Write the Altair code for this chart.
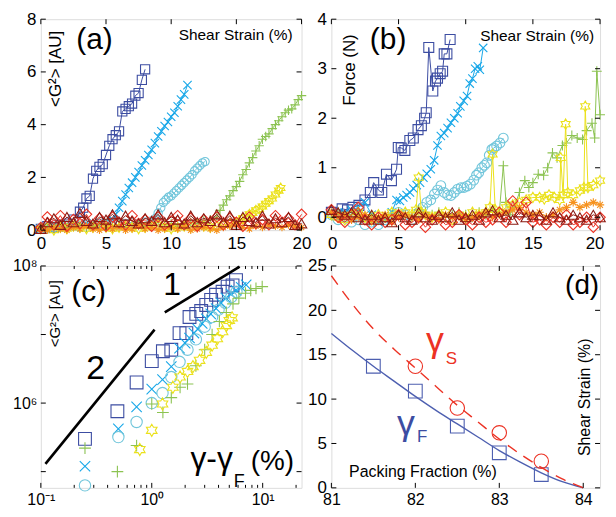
import altair as alt
import pandas as pd

FONT = "Liberation Sans"

# ---------------- colours and marker outlines ----------------
BLUE = "#3c4da2"
SKY = "#17a7e8"
CYAN = "#72c6db"
GREEN = "#8cc352"
YELLOW = "#ebe11b"
ORANGE = "#f6921e"
RED = "#ec3224"
DARKRED = "#8b1b13"

PLUS = "M-1,0L1,0M0,-1L0,1"
CROSS = "M-0.8,-0.8L0.8,0.8M-0.8,0.8L0.8,-0.8"
ASTER = "M-1,0L1,0M0,-1L0,1M-0.7,-0.7L0.7,0.7M-0.7,0.7L0.7,-0.7"
HEXA = ("M0,-1L0.289,-0.5L0.866,-0.5L0.577,0L0.866,0.5L0.289,0.5L0,1L-0.289,0.5"
        "L-0.866,0.5L-0.577,0L-0.866,-0.5L-0.289,-0.5Z")

# ---------------- panel (a): <G^2> vs shear strain ----------------
X_FULL = [0.0, 0.5, 1.0, 1.5, 2.0, 2.5, 3.0, 3.5, 4.0, 4.5, 5.0, 5.5, 6.0, 6.5, 7.0, 7.5, 8.0, 8.5,
          9.0, 9.5, 10.0, 10.5, 11.0, 11.5, 12.0, 12.5, 13.0, 13.5, 14.0, 14.5, 15.0, 15.5, 16.0,
          16.5, 17.0, 17.5, 18.0, 18.5, 19.0, 19.5, 20.0]

A_SQ_X = [0.0, 0.5, 1.0, 1.5, 2.0, 2.5, 3.0, 3.25, 3.5, 3.75, 4.0, 4.25, 4.5, 4.75, 5.0, 5.25, 5.5,
          5.75, 6.0, 6.25, 6.5, 6.75, 7.0, 7.25, 7.5, 7.75, 8.0]
A_SQ_Y = [0.05, 0.15, 0.1, 0.2, 0.25, 0.4, 0.7, 0.85, 1.2, 1.3, 1.95, 2.25, 2.4, 2.5, 2.85, 3.2, 3.45,
          3.6, 3.75, 4.5, 4.6, 4.7, 4.8, 5.1, 5.2, 5.7, 6.1]

A_X_X = [0.0, 0.5, 1.0, 1.5, 2.0, 2.5, 3.0, 3.5, 4.0, 4.5, 5.0, 5.5, 5.75, 6.0, 6.25, 6.5, 6.75, 7.0,
         7.25, 7.5, 7.75, 8.0, 8.25, 8.5, 8.75, 9.0, 9.25, 9.5, 9.75, 10.0, 10.25, 10.5, 10.75, 11.0,
         11.25]
A_X_Y = [0.05, 0.1, 0.15, 0.1, 0.2, 0.15, 0.2, 0.25, 0.2, 0.3, 0.35, 0.4, 0.6, 0.85, 1.1, 1.35, 1.6,
         1.8, 2.0, 2.2, 2.45, 2.65, 2.85, 3.05, 3.3, 3.55, 3.75, 3.95, 4.1, 4.3, 4.45, 4.7, 4.95, 5.15,
         5.5]

A_O_X = [0.0, 0.5, 1.0, 1.5, 2.0, 2.5, 3.0, 3.5, 4.0, 4.5, 5.0, 5.5, 6.0, 6.5, 7.0, 7.5, 8.0, 8.5,
         8.8, 9.0, 9.2, 9.4, 9.6, 9.8, 10.0, 10.2, 10.4, 10.6, 10.8, 11.0, 11.2, 11.4, 11.6, 11.8,
         12.0, 12.2, 12.4, 12.6]
A_O_Y = [0.1, 0.05, 0.15, 0.1, 0.2, 0.15, 0.1, 0.2, 0.15, 0.25, 0.2, 0.15, 0.2, 0.25, 0.3, 0.25, 0.3,
         0.35, 0.45, 0.65, 0.85, 1.05, 1.15, 1.25, 1.3, 1.4, 1.5, 1.6, 1.7, 1.8, 1.9, 2.0, 2.1, 2.25,
         2.35, 2.45, 2.55, 2.6]

A_P_X = [0.0, 0.5, 1.0, 1.5, 2.0, 2.5, 3.0, 3.5, 4.0, 4.5, 5.0, 5.5, 6.0, 6.5, 7.0, 7.5, 8.0, 8.5,
         9.0, 9.5, 10.0, 10.5, 11.0, 11.5, 12.0, 12.5, 13.0, 13.5, 13.75, 14.0, 14.25, 14.5, 14.75,
         15.0, 15.25, 15.5, 15.75, 16.0, 16.25, 16.5, 16.75, 17.0, 17.25, 17.5, 17.75, 18.0, 18.25,
         18.5, 18.75, 19.0, 19.25, 19.5, 19.75, 20.0]
A_P_Y = [0.1, 0.15, 0.05, 0.2, 0.1, 0.15, 0.2, 0.1, 0.15, 0.2, 0.25, 0.15, 0.2, 0.1, 0.2, 0.25, 0.15,
         0.2, 0.3, 0.2, 0.25, 0.15, 0.2, 0.3, 0.25, 0.35, 0.4, 0.5, 0.75, 0.95, 1.15, 1.3, 1.5, 1.65,
         1.85, 2.1, 2.3, 2.55, 2.75, 3.0, 3.2, 3.45, 3.55, 3.65, 3.85, 4.0, 4.15, 4.3, 4.45, 4.55,
         4.6, 4.75, 4.95, 5.1]

A_H_X = [0.0, 0.5, 1.0, 1.5, 2.0, 2.5, 3.0, 3.5, 4.0, 4.5, 5.0, 5.5, 6.0, 6.5, 7.0, 7.5, 8.0, 8.5,
         9.0, 9.5, 10.0, 10.5, 11.0, 11.5, 12.0, 12.5, 13.0, 13.5, 14.0, 14.5, 15.0, 15.25, 15.5,
         15.75, 16.0, 16.25, 16.5, 16.75, 17.0, 17.25, 17.5, 17.75, 18.0, 18.25, 18.4]
A_H_Y = [0.05, 0.1, 0.0, 0.1, 0.05, 0.15, 0.1, 0.05, 0.1, 0.15, 0.1, 0.05, 0.1, 0.15, 0.1, 0.05, 0.1,
         0.15, 0.2, 0.1, 0.05, 0.1, 0.15, 0.1, 0.2, 0.15, 0.1, 0.15, 0.2, 0.25, 0.3, 0.35, 0.45, 0.5,
         0.6, 0.65, 0.75, 0.8, 0.9, 1.0, 1.1, 1.2, 1.35, 1.5, 1.6]

A_AST_Y = [0.05, 0.0, 0.1, 0.05, 0.0, 0.1, 0.05, 0.15, 0.05, 0.0, 0.1, 0.05, 0.1, 0.0, 0.05, 0.15,
           0.05, 0.1, 0.0, 0.05, 0.1, 0.05, 0.15, 0.0, 0.05, 0.1, 0.05, 0.0, 0.1, 0.15, 0.2, 0.1,
           0.05, 0.15, 0.1, 0.2, 0.15, 0.1, 0.2, 0.15, 0.1]
A_DIA_Y = [0.1, 0.5, 0.2, 0.55, 0.15, 0.4, 0.25, 0.6, 0.2, 0.45, 0.15, 0.5, 0.3, 0.2, 0.55, 0.25,
           0.4, 0.15, 0.5, 0.2, 0.35, 0.55, 0.2, 0.45, 0.15, 0.4, 0.25, 0.5, 0.2, 0.45, 0.3, 0.15,
           0.5, 0.25, 0.4, 0.2, 0.55, 0.3, 0.45, 0.2, 0.6]
A_TRI_Y = [0.05, 0.3, 0.45, 0.2, 0.5, 0.3, 0.65, 0.35, 0.25, 0.5, 0.4, 0.6, 0.3, 0.55, 0.35, 0.25,
           0.45, 0.35, 0.6, 0.3, 0.5, 0.4, 0.25, 0.55, 0.3, 0.45, 0.35, 0.6, 0.3, 0.55, 0.2, 0.5,
           0.35, 0.3, 0.55, 0.25, 0.45, 0.3, 0.5, 0.2, 0.25]

# ---------------- panel (b): force vs shear strain ----------------
B_SQ_X = [0.0, 0.4, 0.8, 1.2, 1.6, 2.05, 2.5, 2.9, 3.15, 3.5, 3.75, 4.1, 4.47, 4.85, 4.98, 5.2, 5.47,
          5.84, 6.1, 6.45, 6.7, 6.94, 7.06, 7.25, 7.55, 7.75, 7.9, 8.1, 8.28, 8.4, 8.6, 8.84]
B_SQ_Y = [0.1, 0.05, 0.17, 0.15, 0.2, 0.24, 0.35, 0.5, 0.7, 0.55, 0.5, 0.87, 0.74, 0.97, 1.41, 1.4,
          1.35, 1.55, 1.6, 1.77, 1.85, 2.0, 2.11, 3.43, 2.55, 2.75, 2.81, 2.9, 2.95, 3.3, 3.3, 3.59]

B_X_X = [0.0, 0.5, 1.0, 1.5, 2.0, 2.5, 3.0, 3.5, 4.0, 4.5, 4.85, 5.1, 5.35, 5.6, 5.85, 6.1, 6.35,
         6.6, 6.85, 7.1, 7.4, 7.65, 7.9, 8.15, 8.4, 8.65, 8.9, 9.15, 9.4, 9.6, 9.85, 10.1, 10.3, 10.5,
         10.7, 10.9, 11.05, 11.3]
B_X_Y = [0.1, 0.05, 0.1, 0.15, 0.2, 0.3, 0.05, -0.1, -0.05, 0.1, 0.35, 0.33, 0.4, 0.45, 0.5, 0.58,
         0.65, 0.7, 0.8, 0.88, 0.97, 1.15, 1.45, 1.64, 1.7, 1.8, 1.91, 2.0, 2.1, 2.24, 2.35, 2.45,
         2.7, 2.8, 3.0, 3.05, 2.98, 3.42]

B_O_X = [0.0, 0.5, 1.0, 1.5, 2.0, 2.5, 3.0, 3.5, 4.0, 4.5, 5.0, 5.5, 6.0, 6.5, 6.8, 7.1, 7.4, 7.67,
         7.9, 8.15, 8.4, 8.65, 8.9, 9.15, 9.4, 9.65, 9.87, 10.1, 10.35, 10.6, 10.8, 10.97, 11.2,
         11.4, 11.57, 11.75, 11.94, 12.1, 12.3, 12.55, 12.8]
B_O_Y = [0.05, -0.05, 0.0, -0.1, -0.05, -0.15, -0.1, -0.15, -0.05, 0.0, 0.1, 0.05, -0.05, 0.1, 0.2,
         0.3, 0.35, 0.47, 0.55, 0.64, 0.5, 0.45, 0.44, 0.5, 0.57, 0.6, 0.6, 0.63, 0.67, 0.75, 0.85,
         0.9, 1.0, 1.05, 1.1, 1.25, 1.37, 1.4, 1.44, 1.5, 1.6]

B_P_X = [0.0, 0.5, 1.0, 1.5, 2.0, 2.5, 3.0, 3.5, 4.0, 4.5, 5.0, 5.5, 6.0, 6.5, 7.0, 7.5, 8.0, 8.5,
         9.0, 9.5, 10.0, 10.5, 11.0, 11.5, 12.0, 12.5, 12.8, 13.0, 13.3, 13.6, 14.0, 14.4, 14.7,
         15.0, 15.4, 15.8, 16.1, 16.46, 16.8, 17.2, 17.5, 17.9, 18.3, 18.7, 19.0, 19.4, 19.6, 19.76,
         20.0]
B_P_Y = [0.05, 0.1, 0.0, 0.05, 0.1, 0.0, 0.05, -0.05, 0.0, 0.05, 0.1, 0.05, 0.0, 0.15, 0.1, 0.05,
         0.1, 0.0, 0.05, 0.1, 0.05, 0.0, 0.1, 0.05, 0.15, 0.1, 1.04, 0.3, 0.05, 0.2, 0.5, 0.74, 0.6,
         0.7, 0.87, 0.85, 1.0, 1.3, 1.2, 1.45, 1.5, 1.65, 1.6, 1.57, 1.75, 1.9, 1.6, 2.95, 2.07]

B_H_X = [0.0, 0.5, 1.0, 1.5, 2.0, 2.5, 3.0, 3.5, 4.0, 4.5, 5.0, 5.5, 6.0, 6.3, 6.5, 6.7, 7.0, 7.5,
         8.0, 8.5, 9.0, 9.5, 10.0, 10.5, 11.0, 11.5, 11.8, 12.0, 12.2, 12.5, 13.0, 13.5, 14.0, 14.5,
         15.0, 15.5, 15.85, 16.2, 16.6, 17.0, 17.07, 17.25, 17.44, 17.6, 18.0, 18.5, 18.8, 18.9,
         19.1, 19.5, 20.0]
B_H_Y = [0.05, 0.0, -0.05, 0.05, 0.1, 0.0, -0.05, 0.05, 0.0, 0.1, 0.05, 0.1, 0.05, 0.15, 0.8, 0.1,
         0.05, 0.0, 0.05, 0.1, -0.05, 0.05, 0.0, 0.1, 0.05, 0.1, 0.2, 1.27, 0.15, 0.1, 0.2, 0.25,
         0.3, 0.35, 0.4, 0.4, 0.37, 0.45, 0.4, 0.35, 1.2, 0.45, 1.88, 0.5, 0.45, 0.54, 0.6, 2.24,
         0.6, 0.65, 0.74]

B_AST_Y = [0.1, 0.0, 0.05, -0.05, 0.0, 0.05, -0.05, 0.0, 0.05, -0.1, 0.0, 0.05, 0.0, -0.05, 0.05,
           0.0, -0.05, 0.05, 0.0, 0.05, -0.05, 0.0, 0.05, 0.1, 0.0, 0.05, 0.1, 0.15, 0.2, 0.1, 0.05,
           0.1, 0.0, 0.05, 0.15, 0.2, 0.3, 0.2, 0.25, 0.3, 0.25]
B_DIA_Y = [0.15, 0.0, -0.1, 0.05, 0.2, -0.05, -0.15, 0.0, -0.1, -0.05, 0.05, -0.15, -0.1, 0.0,
           -0.2, -0.05, 0.0, -0.15, -0.1, 0.05, -0.05, -0.15, 0.0, -0.1, -0.05, 0.1, -0.1, 0.33,
           0.05, 0.3, -0.1, -0.05, -0.15, 0.0, -0.1, 0.05, -0.15, -0.1, 0.0, -0.2, 0.0]
B_TRI_Y = [0.15, 0.1, 0.05, 0.1, 0.0, -0.05, 0.05, -0.05, 0.0, -0.1, 0.05, 0.0, -0.05, 0.1, 0.0,
           -0.05, 0.05, 0.0, 0.1, -0.05, 0.0, 0.05, -0.05, 0.1, 0.14, 0.0, 0.05, -0.05, 0.1, 0.0,
           0.05, 0.04, -0.05, 0.1, 0.0, -0.05, 0.05, 0.0, -0.05, 0.05, 0.0]

# ---------------- panel (c): <G^2> vs gamma - gamma_F (log-log) ----------------
C_SQ_X = [0.25, 0.49, 0.73, 1.0, 1.26, 1.5, 1.78, 2.05, 2.19, 2.52, 2.79, 3.1, 3.43, 3.8, 4.35,
          4.83, 5.35, 5.75]
C_SQ_Y = [3.0e5, 7.6e5, 2.0e6, 4.1e6, 5.7e6, 6.0e6, 1.05e7, 1.05e7, 1.8e7, 2.0e7, 2.2e7, 2.7e7,
          3.2e7, 3.8e7, 4.2e7, 5.0e7, 5.2e7, 6.2e7]
C_X_X = [0.25, 0.5, 0.73, 1.0, 1.25, 1.5, 1.78, 2.0, 2.19, 2.4, 2.6, 2.85, 3.1, 3.4, 3.8, 4.2, 4.67,
         5.2, 5.75, 6.4, 7.1]
C_X_Y = [1.2e5, 4.2e5, 8.8e5, 1.6e6, 2.2e6, 3.4e6, 6.3e6, 7.5e6, 8.9e6, 1.05e7, 1.2e7, 1.45e7,
         1.7e7, 2.0e7, 2.4e7, 2.9e7, 3.4e7, 3.9e7, 4.4e7, 4.9e7, 5.3e7]
C_O_X = [0.25, 0.5, 0.73, 1.0, 1.25, 1.5, 1.78, 2.1, 2.5, 3.0, 3.5, 4.0, 4.6, 5.2, 5.8]
C_O_Y = [6.3e4, 3.2e5, 5.3e5, 1.0e6, 1.4e6, 2.4e6, 4.0e6, 6.0e6, 8.5e6, 1.3e7, 1.8e7, 2.3e7, 2.9e7,
         3.5e7, 4.2e7]
C_P_X = [0.25, 0.49, 0.73, 1.0, 1.26, 1.5, 1.8, 2.1, 2.5, 3.0, 3.5, 4.07, 4.7, 5.4, 6.1, 7.0, 7.8,
         8.7, 9.9]
C_P_Y = [2.2e5, 1.0e5, 2.4e5, 9.7e5, 7.3e5, 1.2e6, 1.7e6, 1.9e6, 3.5e6, 6.0e6, 1.0e7, 1.55e7,
         2.1e7, 2.8e7, 3.4e7, 4.0e7, 4.4e7, 4.7e7, 5.0e7]
C_H_X = [0.78, 1.0, 1.25, 1.55, 1.8, 2.1, 2.35, 2.7, 3.1, 3.5, 3.9, 4.35, 4.7, 5.0, 5.3]
C_H_Y = [2.1e5, 4.0e5, 9.7e5, 1.7e6, 2.4e6, 2.9e6, 3.4e6, 4.2e6, 5.5e6, 7.0e6, 8.7e6, 1.1e7,
         1.35e7, 1.6e7, 1.75e7]
SLOPE2_X = [0.11, 1.06]
SLOPE2_Y = [1.3e5, 1.18e7]
SLOPE1_X = [1.31, 6.2]
SLOPE1_Y = [2.1e7, 9.8e7]

# ---------------- panel (d): shear strain vs packing fraction ----------------
PF_F = [81.5, 82.0, 82.5, 83.0, 83.5]
GAMMA_F = [13.7, 10.9, 6.95, 3.95, 1.5]
PF_S = [82.0, 82.5, 83.0, 83.5]
GAMMA_S = [13.7, 9.0, 6.2, 3.0]
FIT_PF = [81.0, 81.25, 81.5, 81.75, 82.0, 82.25, 82.5, 82.75, 83.0, 83.25, 83.5, 83.75, 84.0]
FIT_F = [17.4, 15.5, 13.7, 12.0, 10.3, 8.7, 7.2, 5.7, 4.2, 2.9, 1.7, 0.7, 0.0]
FIT_S = [23.9, 20.7, 17.9, 15.6, 13.5, 11.4, 9.3, 7.4, 5.5, 3.8, 2.3, 1.0, 0.0]

# ---------------- axis ticks / labels ----------------
A_XTICKS = [0, 5, 10, 15, 20]
A_YTICKS = [0, 2, 4, 6, 8]
B_YTICKS = [0, 1, 2, 3, 4]
C_XTICKS = [0.1, 1, 10]
C_XMINOR = [0.2, 0.3, 0.4, 0.5, 0.6, 0.7, 0.8, 0.9, 2, 3, 4, 5, 6, 7, 8, 9, 20]
C_YTICKS = [1e5, 1e6, 1e7, 1e8]
C_YLABELS = [1e6, 1e8]
D_XTICKS = [81, 82, 83, 84]
D_YTICKS = [0, 5, 10, 15, 20, 25]

LBL = 17


def axis(values, size=LBL, expr=None, pad=5, flush=False):
    kw = dict(values=values, title=None, grid=False, ticks=False, domain=False,
              labelFontSize=size, labelPadding=pad, labelColor="black", labelFlush=flush,
              labelFont=FONT)
    if flush:
        kw["labelFlushOffset"] = 4
    if expr:
        kw["labelExpr"] = expr
    return alt.Axis(**kw)


def panel(W, H, xscale, yscale, xaxis, yaxis, series, xticks, yticks, texts,
          xminor=(), yminor=(), lines=True, extra=()):
    def X():
        return alt.X("x:Q", scale=xscale, axis=xaxis)

    def Y():
        return alt.Y("y:Q", scale=yscale, axis=yaxis)

    layers = []
    for xs, ys, color, shape, size in series:
        df = pd.DataFrame({"x": xs, "y": ys})
        if lines:
            layers.append(alt.Chart(df).mark_line(color=color, strokeWidth=1)
                          .encode(x=X(), y=Y()))
        layers.append(alt.Chart(df).mark_point(shape=shape, size=size, color=color, filled=False,
                                               strokeWidth=1.1, opacity=1)
                      .encode(x=X(), y=Y()))
    for e in extra:
        layers.append(e(X, Y))
    # inward tick marks on all four sides
    for vals, ln in ((xticks, 5), (list(xminor), 3)):
        if vals:
            dfx = pd.DataFrame({"x": vals})
            layers.append(alt.Chart(dfx).mark_rule(color="black", strokeWidth=1)
                          .encode(x=X(), y=alt.value(H - ln), y2=alt.value(H)))
            layers.append(alt.Chart(dfx).mark_rule(color="black", strokeWidth=1)
                          .encode(x=X(), y=alt.value(0), y2=alt.value(ln)))
    for vals, ln in ((yticks, 5), (list(yminor), 3)):
        if vals:
            dfy = pd.DataFrame({"y": vals})
            layers.append(alt.Chart(dfy).mark_rule(color="black", strokeWidth=1)
                          .encode(y=Y(), x=alt.value(0), x2=alt.value(ln)))
            layers.append(alt.Chart(dfy).mark_rule(color="black", strokeWidth=1)
                          .encode(y=Y(), x=alt.value(W - ln), x2=alt.value(W)))
    for t, px, py, fs, color, angle, align, base in texts:
        layers.append(alt.Chart(pd.DataFrame({"t": [t]}))
                      .mark_text(text=t, fontSize=fs, color=color, angle=angle, align=align,
                                 baseline=base, font=FONT)
                      .encode(x=alt.value(px), y=alt.value(py)))
    return alt.layer(*layers).properties(width=W, height=H)


WA, HA = 262, 212
WB, HC = 270, 223

strain_scale = alt.Scale(domain=[0, 20], nice=False, zero=False)

# (a)
chart_a = panel(
    WA, HA, strain_scale, alt.Scale(domain=[0, 8], nice=False),
    axis(A_XTICKS), axis(A_YTICKS),
    [
        (A_SQ_X, A_SQ_Y, BLUE, "square", 85),
        (A_X_X, A_X_Y, SKY, CROSS, 110),
        (A_O_X, A_O_Y, CYAN, "circle", 70),
        (A_P_X, A_P_Y, GREEN, PLUS, 90),
        (A_H_X, A_H_Y, YELLOW, HEXA, 100),
        (X_FULL, A_AST_Y, ORANGE, ASTER, 60),
        (X_FULL, A_DIA_Y, RED, "diamond", 110),
        (X_FULL, A_TRI_Y, DARKRED, "triangle-up", 110),
    ],
    A_XTICKS, A_YTICKS,
    [
        ("(a)", 54, 21, 30, "black", 0, "center", "middle"),
        ("<G²> [AU]", 15, 50, 17, "black", 270, "center", "middle"),
        ("Shear Strain (%)", 253, 16, 15.5, "black", 0, "right", "middle"),
    ],
)

# (b)
chart_b = panel(
    WB, HA, strain_scale, alt.Scale(domain=[-0.26, 4], nice=False, zero=False),
    axis(A_XTICKS, flush=True), axis(B_YTICKS),
    [
        (B_SQ_X, B_SQ_Y, BLUE, "square", 100),
        (B_X_X, B_X_Y, SKY, CROSS, 110),
        (B_O_X, B_O_Y, CYAN, "circle", 95),
        (B_P_X, B_P_Y, GREEN, PLUS, 100),
        (B_H_X, B_H_Y, YELLOW, HEXA, 110),
        (X_FULL, B_AST_Y, ORANGE, ASTER, 70),
        (X_FULL, B_DIA_Y, RED, "diamond", 110),
        (X_FULL, B_TRI_Y, DARKRED, "triangle-up", 110),
    ],
    A_XTICKS, B_YTICKS,
    [
        ("(b)", 57, 21, 30, "black", 0, "center", "middle"),
        ("Force (N)", 19, 51, 17, "black", 270, "center", "middle"),
        ("Shear Strain (%)", 264, 17, 15.5, "black", 0, "right", "middle"),
    ],
)

# (c)
c_xexpr = "datum.value < 0.5 ? '10⁻¹' : (datum.value < 5 ? '10⁰' : '10¹')"
c_yexpr = "datum.value > 5e7 ? '10⁸' : '10⁶'"


def slope_line(xs, ys):
    def f(X, Y):
        return (alt.Chart(pd.DataFrame({"x": xs, "y": ys}))
                .mark_line(color="black", strokeWidth=2.6).encode(x=X(), y=Y()))
    return f


chart_c = panel(
    WA, HC, alt.Scale(type="log", domain=[0.1, 22.4], nice=False),
    alt.Scale(type="log", domain=[5.8e4, 1e8], nice=False),
    axis(C_XTICKS, 16, c_xexpr, pad=4), axis(C_YLABELS, 16, c_yexpr, pad=4),
    [
        (C_SQ_X, C_SQ_Y, BLUE, "square", 165),
        (C_X_X, C_X_Y, SKY, CROSS, 170),
        (C_O_X, C_O_Y, CYAN, "circle", 130),
        (C_P_X, C_P_Y, GREEN, PLUS, 140),
        (C_H_X, C_H_Y, YELLOW, HEXA, 150),
    ],
    C_XTICKS, C_YTICKS,
    [
        ("(c)", 48, 26, 30, "black", 0, "center", "middle"),
        ("<G²> [AU]", 14, 48, 15, "black", 270, "center", "middle"),
        ("1", 132, 19, 32, "black", 0, "center", "middle"),
        ("2", 55, 104, 34, "black", 0, "center", "middle"),
        ("γ-γ", 193, 204, 32, "black", 0, "right", "alphabetic"),
        ("F", 194, 222, 18, "black", 0, "left", "alphabetic"),
        ("(%)", 211, 205, 28, "black", 0, "left", "alphabetic"),
    ],
    xminor=C_XMINOR, lines=False,
    extra=(slope_line(SLOPE2_X, SLOPE2_Y), slope_line(SLOPE1_X, SLOPE1_Y)),
)


# (d)
def fit_line(xs, ys, color, dash=None):
    def f(X, Y):
        kw = dict(color=color, strokeWidth=1.4, interpolate="monotone")
        if dash:
            kw["strokeDash"] = dash
        return (alt.Chart(pd.DataFrame({"x": xs, "y": ys}))
                .mark_line(**kw).encode(x=X(), y=Y()))
    return f


chart_d = panel(
    WB, HC, alt.Scale(domain=[81, 84.2], nice=False, zero=False),
    alt.Scale(domain=[0, 25], nice=False),
    axis(D_XTICKS, 16, pad=4), axis(D_YTICKS),
    [
        (PF_F, GAMMA_F, "#4d5fb0", "square", 190),
        (PF_S, GAMMA_S, RED, "circle", 210),
    ],
    D_XTICKS, D_YTICKS,
    [
        ("(d)", 252, 20, 28, "black", 0, "center", "middle"),
        ("γ", 104, 86, 36, RED, 0, "center", "alphabetic"),
        ("S", 115, 99, 17, RED, 0, "left", "alphabetic"),
        ("γ", 75, 170, 36, "#3c4da2", 0, "center", "alphabetic"),
        ("F", 86, 177, 17, "#3c4da2", 0, "left", "alphabetic"),
        ("Packing Fraction (%)", 92, 207, 16, "black", 0, "center", "middle"),
        ("Shear Strain (%)", 255, 132, 16, "black", 270, "center", "middle"),
    ],
    lines=False,
    extra=(fit_line(FIT_PF, FIT_F, "#4d5fb0"), fit_line(FIT_PF, FIT_S, RED, [11, 8])),
)

chart = (
    alt.concat(chart_a, chart_b, chart_c, chart_d, columns=2,
               spacing={"row": 36, "column": 30}, bounds="flush", align="each")
    .properties(padding={"left": 3, "top": 0, "right": 0, "bottom": 0}, background="white")
    .configure_view(stroke="#222222", strokeWidth=1.2)
    .configure(font=FONT)
)

chart.save("out.html", embed_options={"renderer": "svg", "actions": False})
